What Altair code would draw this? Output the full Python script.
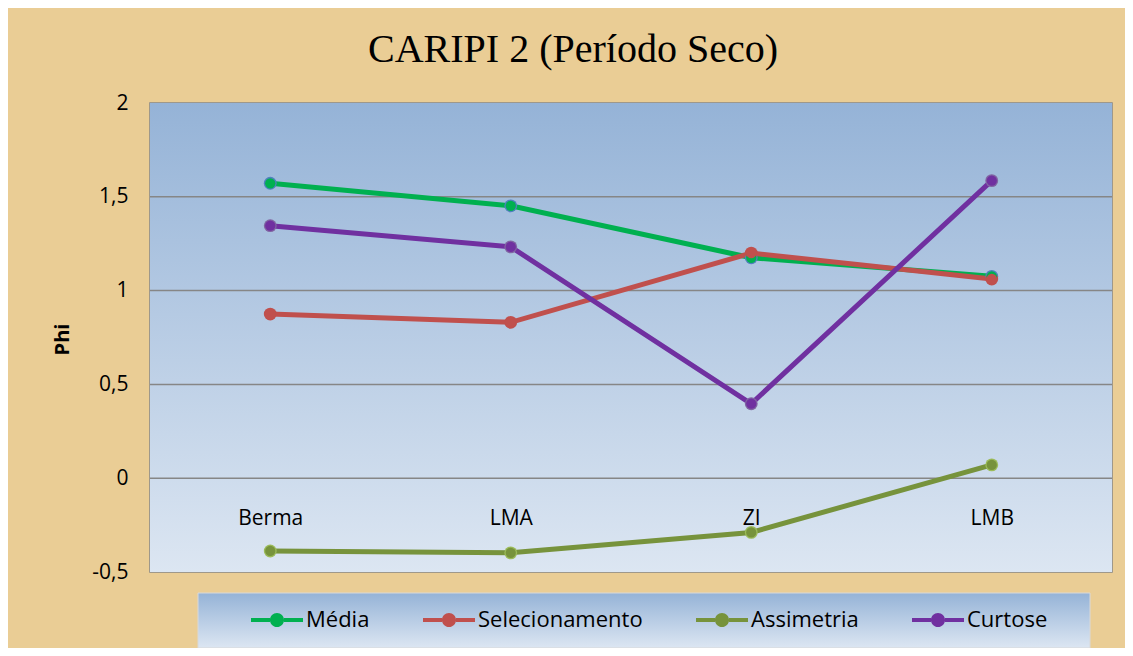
import altair as alt
import pandas as pd

categories = ["Berma", "LMA", "ZI", "LMB"]
series_names = ["Média", "Selecionamento", "Assimetria", "Curtose"]
media = [1.572, 1.452, 1.175, 1.076]
selecionamento = [0.875, 0.831, 1.200, 1.062]
assimetria = [-0.388, -0.398, -0.289, 0.071]
curtose = [1.346, 1.233, 0.397, 1.586]
y_ticks = [-0.5, 0, 0.5, 1, 1.5, 2]

line_colors = ["#00B050", "#C0504D", "#77933C", "#7030A0"]
marker_strokes = ["#4F81BD", "#C0504D", "#9BBB59", "#8064A2"]

rows = []
for name, vals in zip(series_names, [media, selecionamento, assimetria, curtose]):
    for i, (c, v) in enumerate(zip(categories, vals)):
        rows.append({"serie": name, "local": c, "phi": v, "ordem": i})
df = pd.DataFrame(rows)

FONT = "Open Sans"

blue_grad = alt.LinearGradient(
    gradient="linear", x1=0, y1=0, x2=0, y2=1,
    stops=[alt.GradientStop(color="#95B3D7", offset=0),
           alt.GradientStop(color="#DCE6F2", offset=1)],
)

x_enc = alt.X(
    "local:N",
    sort=categories,
    scale=alt.Scale(type="point", padding=0.5),
    axis=alt.Axis(
        title=None, domain=False, ticks=False, grid=False, labelAngle=0,
        labelFont=FONT, labelFontSize=21, labelColor="#000000",
        labelPadding=29, offset=-94, zindex=2,
    ),
)
y_scale = alt.Scale(domain=[-0.5, 2], nice=False, zero=False)
y_axis = alt.Axis(
    values=y_ticks, title="Phi", titleFont=FONT, titleFontSize=20,
    titleFontWeight="bold", titleColor="#000000", titleX=-88, titleY=236,
    titleAngle=270, titleBaseline="middle", titleAlign="center",
    labelFont=FONT, labelFontSize=21, labelColor="#000000", labelPadding=22,
    labelExpr="replace(toString(datum.value), '.', ',')",
    domain=False, ticks=False, grid=False, zindex=2,
)
y_enc = alt.Y("phi:Q", scale=y_scale, axis=y_axis)

plot_bg = alt.Chart(pd.DataFrame({"a": [0]})).mark_rect(fill=blue_grad).encode(
    x=alt.value(0), x2=alt.value(962), y=alt.value(0), y2=alt.value(469)
)

grid = alt.Chart(pd.DataFrame({"phi": y_ticks[1:-1]})).mark_rule(
    color="#868686", strokeWidth=1.5
).encode(y=y_enc)

legend_box = alt.Chart(pd.DataFrame({"a": [0]})).mark_rect(
    fill=blue_grad, stroke="#D9D9D9", strokeWidth=1,
).encode(x=alt.value(48), x2=alt.value(940), y=alt.value(490), y2=alt.value(545))

base = alt.Chart(df)

line_layers = []
outline_layers = []
for name, lc, sc in zip(series_names, line_colors, marker_strokes):
    sub = base.transform_filter(alt.datum.serie == name)
    line_layers.append(
        sub.mark_line(strokeWidth=5, color=lc).encode(
            x=x_enc, y=y_enc, order=alt.Order("ordem:Q")
        )
    )
    outline_layers.append(
        sub.mark_point(filled=True, size=165, opacity=1, color=sc, strokeWidth=0).encode(
            x=x_enc, y=y_enc
        )
    )

legend_path = ("M-1,-0.08L-0.27,-0.08L-0.27,0.08L-1,0.08Z "
               "M0.27,-0.08L1,-0.08L1,0.08L0.27,0.08Z "
               "M0.27,0A0.27,0.27 0 1,1 -0.27,0A0.27,0.27 0 1,1 0.27,0Z")

points = base.mark_point(filled=True, size=105, opacity=1, strokeWidth=0).encode(
    x=x_enc,
    y=y_enc,
    fill=alt.Fill("serie:N", sort=series_names,
                  scale=alt.Scale(domain=series_names, range=line_colors),
                  legend=alt.Legend(
                      title=None, orient="none", direction="horizontal",
                      legendX=101, legendY=491, symbolType=legend_path,
                      symbolSize=2704, symbolStrokeWidth=0, labelFont=FONT,
                      labelFontSize=22, labelColor="#000000", labelOffset=3,
                      columnPadding=53, labelLimit=400, zindex=2,
                  )),
)

chart = alt.layer(plot_bg, grid, legend_box, *line_layers, *outline_layers, points).properties(
    width=962,
    height=469,
    autosize="none",
    padding={"left": 142, "top": 95, "right": 13, "bottom": 76},
    background="#EACD95",
    title=alt.Title(
        "CARIPI 2 (Período Seco)", font="Liberation Serif", fontSize=40,
        fontWeight="normal", color="#000000", anchor="middle", offset=22, dx=-58,
    ),
).configure_view(
    stroke="#868686",
    strokeWidth=1.5,
)

chart.save("out.html", embed_options={"renderer": "svg", "actions": False})
